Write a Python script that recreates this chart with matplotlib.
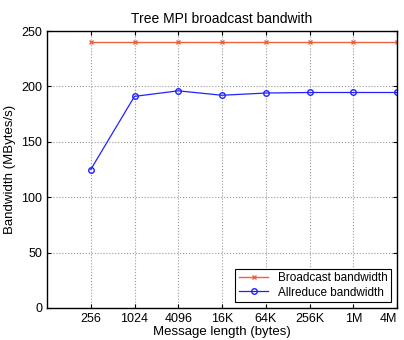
import matplotlib
matplotlib.use("Agg")
import matplotlib.pyplot as plt

sizes = ["256", "1024", "4096", "16K", "64K", "256K", "1M", "4M"]
broadcast = [240, 240, 240, 240, 240, 240, 240, 240]
allreduce = [125, 191, 196, 192, 194, 194.5, 194.5, 194.5]

plt.rcParams['font.family'] = ['Liberation Sans', 'DejaVu Sans']
fig = plt.figure(figsize=(4.04, 3.4), dpi=100)
ax = fig.add_axes([47/404, 32/340, 350/404, 277/340])
x = list(range(1, len(sizes) + 1))
ax.plot(x, broadcast, color='#f0603c', marker='x', markersize=3, lw=1, label='Broadcast bandwidth')
ax.plot(x, allreduce, color='#2222ff', marker='o', markersize=4, mfc='none', lw=0.9, label='Allreduce bandwidth')
ax.set_xlim(0, 8)
ax.set_ylim(0, 250)
ax.set_xticks(x)
ax.set_xticklabels(sizes)
ax.set_yticks([0, 50, 100, 150, 200, 250])
ax.grid(True, linestyle=':', color='#999999', lw=0.8)
ax.tick_params(direction='in', top=True, right=True, labelsize=9, length=3)
for lab in ax.get_xticklabels()[-1:]:
    lab.set_horizontalalignment('right')
    lab.set_x(8.12)
for s in ax.spines.values():
    s.set_linewidth(1)
ax.set_title('Tree MPI broadcast bandwith', fontsize=10)
ax.set_xlabel('Message length (bytes)', fontsize=9.5, labelpad=1)
ax.set_ylabel('Bandwidth (MBytes/s)', fontsize=9.5)
leg = ax.legend(loc='lower right', fontsize=8.5, fancybox=False, framealpha=1,
                edgecolor='black', borderpad=0.3, handlelength=2.5, labelspacing=0.2)
leg.get_frame().set_linewidth(0.8)
fig.savefig('out.png', dpi=100)
